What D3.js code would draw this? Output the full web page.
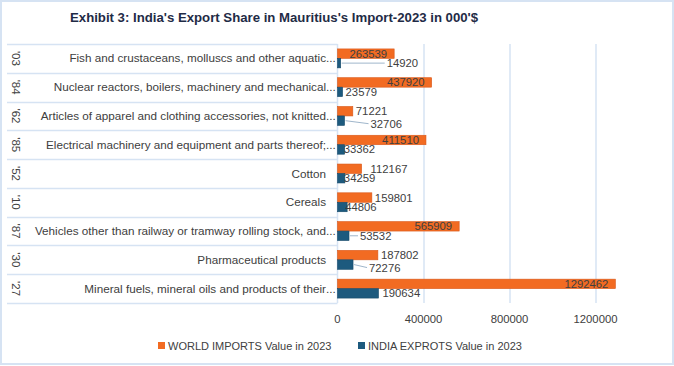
<!DOCTYPE html>
<html><head><meta charset="utf-8">
<script src="https://cdn.jsdelivr.net/npm/d3@7"></script>
<style>
html,body{margin:0;padding:0;background:#fff;}
svg{display:block;font-family:"Liberation Sans",Arial,sans-serif;}
</style></head>
<body><svg id="c" width="674" height="366"></svg>
<script>
const title = "Exhibit 3: India's Export Share in Mauritius's Import-2023 in 000'$";
const codes = ["'03","'84","'62","'85","'52","'10","'87","'30","'27"];
const categories = [
  "Fish and crustaceans, molluscs and other aquatic",
  "Nuclear reactors, boilers, machinery and mechanical",
  "Articles of apparel and clothing accessories, not knitted",
  "Electrical machinery and equipment and parts thereof;",
  "Cotton",
  "Cereals",
  "Vehicles other than railway or tramway rolling stock, and",
  "Pharmaceutical products",
  "Mineral fuels, mineral oils and products of their"
];
const truncated = [true,true,true,true,false,false,true,false,true];
const worldImports = [263539,437920,71221,411510,112167,159801,565909,187802,1292462];
const indiaExports = [14920,23579,32706,33362,34259,44806,53532,72276,190634];
const seriesNames = ["WORLD IMPORTS Value in 2023","INDIA EXPROTS Value in 2023"];
const tickValues = [0,400000,800000,1200000];

// label layout (styling only)
const indiaLabelShift = [46,3,26,-1,-1,-2,11,16,4];
const indiaLabelDy = [0,0,3,0,0,0,0,3,0];

const colors = ["#F26B22","#1D5A7E"];
const strokes = ["#D9581A","#174A69"];
const textCol = "#404040";
const lineCol = "#D6E3F3";

const svg = d3.select("#c");
svg.append("rect").attr("x",1).attr("y",1).attr("width",672).attr("height",363)
  .attr("fill","#fff").attr("stroke",lineCol).attr("stroke-width",2);

svg.append("text").attr("x",70).attr("y",22).attr("font-size",13.2).attr("font-weight","bold")
  .attr("fill","#1F2B46").text(title);

const x = d3.scaleLinear().domain([0,1400000]).range([337.5,638.5]);
const y = d3.scaleBand().domain(d3.range(categories.length)).range([44,303]);
const sub = d3.scaleBand().domain([0,1]).range([0,y.bandwidth()]).paddingOuter(0.52);

svg.append("g").selectAll("line").data(tickValues.slice(1)).join("line")
  .attr("x1",d=>x(d)+0.5).attr("x2",d=>x(d)+0.5).attr("y1",44).attr("y2",303)
  .attr("stroke",lineCol).attr("stroke-width",1.5);

const box = svg.append("g");
box.selectAll("line.h").data(d3.range(categories.length+1)).join("line")
  .attr("x1",7).attr("x2",x(0)).attr("y1",i=>Math.round(44+i*y.step())+0.5).attr("y2",i=>Math.round(44+i*y.step())+0.5)
  .attr("stroke",lineCol).attr("stroke-width",1.5);
box.append("line").attr("x1",x(0)).attr("x2",x(0)).attr("y1",44).attr("y2",303)
  .attr("stroke",lineCol).attr("stroke-width",1.5);

const rows = svg.append("g").selectAll("g").data(categories).join("g");
rows.append("text").attr("x",326).attr("y",(d,i)=>y(i)+y.bandwidth()/2+4)
  .attr("text-anchor","end").attr("font-size",11.7).attr("fill",textCol).text(d=>d);
rows.filter((d,i)=>truncated[i]).append("text").attr("x",326).attr("y",d=>y(categories.indexOf(d))+y.bandwidth()/2+4)
  .attr("font-size",11.7).attr("fill",textCol).text("...");
rows.append("text").attr("font-size",11.5).attr("fill",textCol)
  .attr("transform",(d,i)=>`translate(12,${y(i)+y.bandwidth()/2}) rotate(90)`)
  .attr("text-anchor","middle").text((d,i)=>codes[i]);

const series = [worldImports, indiaExports];
series.forEach((vals,s)=>{
  svg.append("g").selectAll("rect").data(vals).join("rect")
    .attr("x",x(0)).attr("y",(d,i)=>y(i)+sub(s))
    .attr("width",d=>x(d)-x(0)).attr("height",sub.bandwidth())
    .attr("fill",colors[s]).attr("stroke",strokes[s]).attr("stroke-width",0.6);
});

const wl = svg.append("g");
worldImports.forEach((v,i)=>{
  const t = wl.append("text").attr("font-size",11.3).attr("fill",textCol)
    .attr("y",y(i)+sub(0)+sub.bandwidth()/2+4).text(v);
  const w = t.node().getComputedTextLength();
  const bw = x(v)-x(0);
  if (bw > w + 12) t.attr("x",x(v)-7).attr("text-anchor","end");
  else t.attr("x",x(v)+3 + (i===4?6:0));
});
const il = svg.append("g");
indiaExports.forEach((v,i)=>{
  const cy = y(i)+sub(1)+sub.bandwidth()/2;
  const tx = x(v)+indiaLabelShift[i];
  if (indiaLabelShift[i] > 8) {
    il.append("line").attr("x1",x(v)+1).attr("y1",cy).attr("x2",tx-2).attr("y2",cy+indiaLabelDy[i])
      .attr("stroke","#9FB6CB").attr("stroke-width",1);
  }
  il.append("text").attr("font-size",11.3).attr("fill",textCol)
    .attr("x",tx).attr("y",cy+indiaLabelDy[i]+4).text(v);
});

svg.append("g").selectAll("text").data(tickValues).join("text")
  .attr("x",d=>x(d)).attr("y",323).attr("text-anchor","middle")
  .attr("font-size",11.3).attr("fill",textCol).text(d=>d3.format("d")(d));

const lg = svg.append("g");
const lx = [158,358];
seriesNames.forEach((n,s)=>{
  lg.append("rect").attr("x",lx[s]).attr("y",342).attr("width",7).attr("height",7).attr("fill",colors[s]);
  lg.append("text").attr("x",lx[s]+10).attr("y",350).attr("font-size",11).attr("fill",textCol).text(n);
});
</script></body></html>
